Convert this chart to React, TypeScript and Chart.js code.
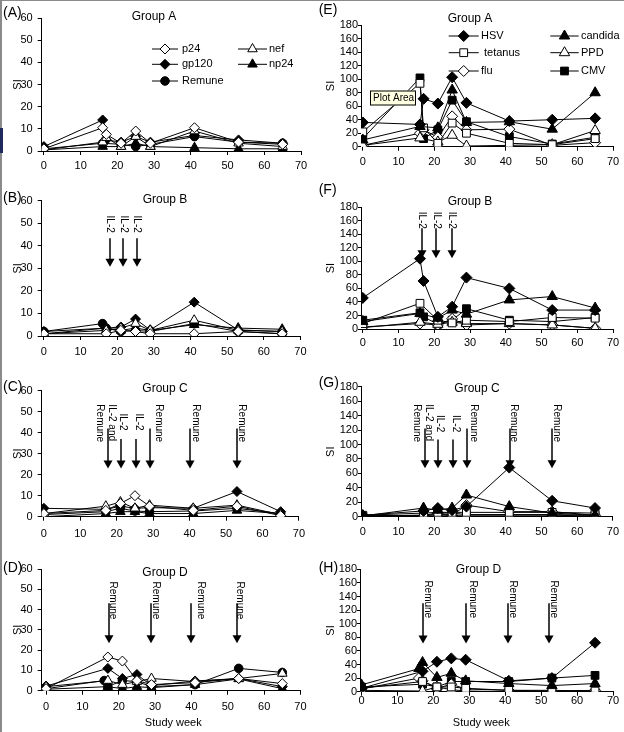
import React, { useEffect, useRef } from 'react';
import { Chart, registerables } from 'chart.js';
Chart.register(...registerables);

const FONT = '"Liberation Sans", Arial, sans-serif';

// Study weeks at which responses were measured
const WEEKS = [0, 16, 17, 21, 25, 29, 41, 53, 65];

const HIV_NAMES = ['p24', 'nef', 'gp120', 'np24', 'Remune'];
const RECALL_NAMES = ['HSV', 'candida', 'tetanus', 'PPD', 'flu', 'CMV'];

// ---- Group A, HIV antigens (panel A)
const A_P24 = [1, 10.5, 7.5, 3.5, 9, 3.5, 10.5, 4, 3];
const A_NEF = [0.5, 4, 6, 2, 6.5, 2, 9, 3.5, 2];
const A_GP120 = [2, 14, 5, 4, 6.5, 4, 7, 5, 3.5];
const A_NP24 = [0.5, 2, null, 2, 3.5, 2, 1.5, 1, 1];
const A_REMUNE = [1, 3.5, null, 3, 2, 3, 6.5, 4, 3.5];

// ---- Group B, HIV antigens (panel B)
const B_P24 = [1, null, 1, 2.5, 2, 1, 1, 2, 1];
const B_NEF = [1, null, 2.5, 3.5, 5.5, 2.5, 7, 2.5, 2];
const B_GP120 = [2, null, 3.5, 4, 7.5, 2.7, 15, 2.7, 2];
const B_NP24 = [1, null, 3.5, 2.5, 3.5, 2.5, 5, 3.5, 3];
const B_REMUNE = [2, 5.5, 3.5, 2, 2.5, 2, 5.5, 2, 1];

// ---- Group C, HIV antigens (panel C)
const C_P24 = [1.5, null, 3, 6.3, 10, 5, 3, 5, 0.5];
const C_NEF = [1.5, null, 5, 7, 4, 5.5, 4, 5.5, 1];
const C_GP120 = [4, null, 3.5, 5, 4, 4.3, 4, 12, 2.4];
const C_NP24 = [0, null, 1.5, 2.4, 2.4, 1.5, 1.5, 3, 1.5];
const C_REMUNE = [1, null, 2.4, 4, 2.7, 2.4, 2.7, 4, 1.5];

// ---- Group D, HIV antigens (panel D)
const D_P24 = [1, null, 16.6, 14.6, 5, 3, 4, 6, 3.5];
const D_NEF = [2, null, 5, 3, 4.5, 6, 4.5, 6, 8.5];
const D_GP120 = [2.3, null, 11, 6, 8, 2.5, 4.8, 6, 2];
const D_NP24 = [0.7, null, 2, 1, 2, 1.5, 3, 5.8, 1];
const D_REMUNE = [1, 5, 2, 5, 4.5, 2, 3, 11, 9];

// ---- Group A, recall antigens (panel E)
const E_HSV = [36, 33, 71, 64, 103, 65, 38, 40, 42];
const E_CANDIDA = [10, 30, null, 28, 84, 36, 37, 26, 80];
const E_TETANUS = [22, 94, 28, 5, 35, 20, 5, 3, 12];
const E_PPD = [2, 13, null, 7, 17, 1, 2, 3, 24];
const E_FLU = [2, 20, 25, 14, 45, 25, 26, 2, 6];
const E_CMV = [12, 102, 12, 25, 69, 37, 15, 4, 14];

// ---- Group B, recall antigens (panel F)
const F_HSV = [46, 104, 71, 18, 33, 76, 60, 28, 28];
const F_CANDIDA = [11, 23, null, 16, 28, 22, 43, 48, 31];
const F_TETANUS = [8, 38, null, 13, 9, 13, 11, 17, 16];
const F_PPD = [2, 10, null, 7, 10, 8, 8, 6, 1];
const F_FLU = [3, 8, null, 6, 15, 6, 8, 6, 1];
const F_CMV = [13, 24, 18, 7, 13, 30, 13, 11, 17];

// ---- Group C, recall antigens (panel G)
const G_HSV = [2, null, 8, 12, 9, 14, 68, 22, 12];
const G_CANDIDA = [1, null, 12, 9, 12, 30, 14, 5, 2];
const G_TETANUS = [2, null, 5, 6, 6, 6, 6, 6, 5];
const G_PPD = [1, null, 2, 2, 2, 2, 2, 2, 1];
const G_FLU = [2, null, 1, 4, 2, 16, 7, 7, 2];
const G_CMV = [1, null, 2, 5, 5, 3, 3, 3, 2];

// ---- Group D, recall antigens (panel H)
const H_HSV = [5, null, 30, 44, 49, 47, 16, 20, 72];
const H_CANDIDA = [10, 34, 43, 21, 27, 16, 12, 9, 12];
const H_TETANUS = [5, null, 15, 7, 7, 5, 2, 2, 1];
const H_PPD = [2, null, 1, 7, 3, 1, 0, 0, 0];
const H_FLU = [4, 20, 16, 5, 11, 4, 2, 1, 2];
const H_CMV = [7, null, 11, 7, 15, 15, 15, 20, 24];

// ---- Axis ticks
const X_TICKS = [0, 10, 20, 30, 40, 50, 60, 70];
const LEFT_Y_MAX = 60;
const LEFT_Y_STEP = 10;
const RIGHT_Y_MAX = 180;
const RIGHT_Y_STEP = 20;
const X_MAX = 70;

// ---- Treatment arrows (study week, SI at arrow top, SI at tip) and rotated notes
const B_ARROW_WEEKS = [18.1, 21.7, 25.4];
const B_ARROW_TOP = [43.3, 43.3, 43.3];
const B_ARROW_TIP = [30.7, 30.7, 30.7];
const B_NOTE_TEXT = ['IL-2', 'IL-2', 'IL-2'];
const B_NOTE_WEEKS = [18.1, 21.7, 25.4];
const B_NOTE_TOP = [53.4, 53.4, 53.4];

const C_ARROW_WEEKS = [17.5, 21.1, 25.3, 29.2, 40.1, 53.1];
const C_ARROW_TOP = [42, 37, 37, 42, 42, 42];
const C_ARROW_TIP = [23, 23, 23, 23, 23, 23];
const C_NOTE_TEXT = ['Remune', 'IL-2 and', 'IL-2', 'IL-2', 'Remune', 'Remune', 'Remune'];
const C_NOTE_WEEKS = [15.3, 18.7, 21.6, 26.1, 31.4, 41.7, 54.3];
const C_NOTE_TOP = [53.5, 53.5, 49.2, 49.2, 53.5, 53.5, 53.5];

const D_ARROW_WEEKS = [17.2, 28.8, 40, 52.5];
const D_ARROW_TOP = [43.1, 43.1, 43.1, 43.1];
const D_ARROW_TIP = [23.4, 23.4, 23.4, 23.4];
const D_NOTE_TEXT = ['Remune', 'Remune', 'Remune', 'Remune'];
const D_NOTE_WEEKS = [18.3, 30.2, 42.5, 53.4];
const D_NOTE_TOP = [53.8, 53.8, 53.8, 53.8];

const F_ARROW_WEEKS = [16.6, 20.6, 25];
const F_ARROW_TOP = [149, 149, 149];
const F_ARROW_TIP = [104.6, 104.6, 104.6];
const F_NOTE_TEXT = ['IL-2', 'IL-2', 'IL-2'];
const F_NOTE_WEEKS = [16.6, 20.6, 25];
const F_NOTE_TOP = [173.5, 173.5, 173.5];

const G_ARROW_WEEKS = [17.3, 21, 25.2, 29.2, 41.3, 52.9];
const G_ARROW_TOP = [122, 107, 107, 122, 122, 122];
const G_ARROW_TIP = [67, 67, 67, 67, 67, 67];
const G_NOTE_TEXT = ['Remune', 'IL-2 and', 'IL-2', 'IL-2', 'Remune', 'Remune', 'Remune'];
const G_NOTE_WEEKS = [15.2, 18.5, 21.5, 25.9, 31, 42.2, 54.3];
const G_NOTE_TOP = [155.7, 155.7, 140.8, 140.8, 155.7, 155.7, 155.7];

const H_ARROW_WEEKS = [17.2, 29, 40.7, 52.2];
const H_ARROW_TOP = [130, 130, 130, 130];
const H_ARROW_TIP = [71, 71, 71, 71];
const H_NOTE_TEXT = ['Remune', 'Remune', 'Remune', 'Remune'];
const H_NOTE_WEEKS = [18.4, 31.1, 42.1, 53.4];
const H_NOTE_TOP = [163.7, 163.7, 163.7, 163.7];

// ---------------------------------------------------------------------------
type Shape = 'rectRot' | 'triangle' | 'rect' | 'circle';
interface MStyle { shape: Shape; fill: boolean; r: number }

const HIV_STYLES: MStyle[] = [
  { shape: 'rectRot', fill: false, r: 5 },
  { shape: 'triangle', fill: false, r: 5.5 },
  { shape: 'rectRot', fill: true, r: 5 },
  { shape: 'triangle', fill: true, r: 5.5 },
  { shape: 'circle', fill: true, r: 4.3 },
];
const RECALL_STYLES: MStyle[] = [
  { shape: 'rectRot', fill: true, r: 5.5 },
  { shape: 'triangle', fill: true, r: 6 },
  { shape: 'rect', fill: false, r: 5.5 },
  { shape: 'triangle', fill: false, r: 6 },
  { shape: 'rectRot', fill: false, r: 5.5 },
  { shape: 'rect', fill: true, r: 5.5 },
];

interface LegendItem { ds: number; x1: number; x2: number; y: number; tx: number }
interface Panel {
  key: string; letter: string; title: string;
  ox: number; oy: number; w: number; h: number;
  area: { l: number; t: number; r: number; b: number };
  xMin: number;
  yMax: number; yStep: number;
  names: string[]; styles: MStyle[]; series: (number | null)[][];
  letterPos: [number, number]; titlePos: [number, number]; siX: number;
  xGap: number; yPad: number; yTickLen: number;
  arrows: { weeks: number[]; tops: number[]; tips: number[] };
  notes: { text: string[]; weeks: number[]; tops: number[] };
  legend?: LegendItem[];
  studyWeek?: [number, number];
  plotAreaTip?: boolean;
}

const NONE = { weeks: [], tops: [], tips: [] };
const NO_NOTES = { text: [], weeks: [], tops: [] };

const LEFT_COMMON = { ox: 0, w: 312, yMax: LEFT_Y_MAX, yStep: LEFT_Y_STEP, names: HIV_NAMES, styles: HIV_STYLES, siX: 17.5, yPad: 5, yTickLen: 4 };
const RIGHT_COMMON = { ox: 312, w: 312, yMax: RIGHT_Y_MAX, yStep: RIGHT_Y_STEP, names: RECALL_NAMES, styles: RECALL_STYLES, siX: 330.5, yPad: 0, yTickLen: 3 };

const PANELS: Panel[] = [
  {
    ...LEFT_COMMON, key: 'A', letter: '(A)', title: 'Group A', oy: 0, h: 170,
    area: { l: 41.7, t: 18, r: 301, b: 151 }, xMin: -0.6,
    series: [A_P24, A_NEF, A_GP120, A_NP24, A_REMUNE],
    letterPos: [3, 13.3], titlePos: [154, 16.7], xGap: 15,
    arrows: NONE, notes: NO_NOTES,
    legend: [
      { ds: 0, x1: 152, x2: 178, y: 49, tx: 182 },
      { ds: 1, x1: 238, x2: 267, y: 49, tx: 269 },
      { ds: 2, x1: 152, x2: 178, y: 64.3, tx: 182 },
      { ds: 3, x1: 238, x2: 267, y: 64.3, tx: 269 },
      { ds: 4, x1: 152, x2: 178, y: 81, tx: 182 },
    ],
  },
  {
    ...LEFT_COMMON, key: 'B', letter: '(B)', title: 'Group B', oy: 170, h: 190,
    area: { l: 41.7, t: 200.7, r: 301, b: 336 }, xMin: -0.6,
    series: [B_P24, B_NEF, B_GP120, B_NP24, B_REMUNE],
    letterPos: [3, 198.3], titlePos: [165, 200], xGap: 16,
    arrows: { weeks: B_ARROW_WEEKS, tops: B_ARROW_TOP, tips: B_ARROW_TIP },
    notes: { text: B_NOTE_TEXT, weeks: B_NOTE_WEEKS, tops: B_NOTE_TOP },
  },
  {
    ...LEFT_COMMON, key: 'C', letter: '(C)', title: 'Group C', oy: 360, h: 185,
    area: { l: 41.7, t: 390.7, r: 301, b: 516.7 }, xMin: -0.6,
    series: [C_P24, C_NEF, C_GP120, C_NP24, C_REMUNE],
    letterPos: [3, 387.3], titlePos: [165, 388.7], xGap: 17.6,
    arrows: { weeks: C_ARROW_WEEKS, tops: C_ARROW_TOP, tips: C_ARROW_TIP },
    notes: { text: C_NOTE_TEXT, weeks: C_NOTE_WEEKS, tops: C_NOTE_TOP },
  },
  {
    ...LEFT_COMMON, key: 'D', letter: '(D)', title: 'Group D', oy: 545, h: 187,
    area: { l: 41.7, t: 569, r: 302.6, b: 690.7 }, xMin: -1.2,
    series: [D_P24, D_NEF, D_GP120, D_NP24, D_REMUNE],
    letterPos: [3, 568.3], titlePos: [165, 572.7], xGap: 16,
    arrows: { weeks: D_ARROW_WEEKS, tops: D_ARROW_TOP, tips: D_ARROW_TIP },
    notes: { text: D_NOTE_TEXT, weeks: D_NOTE_WEEKS, tops: D_NOTE_TOP },
    studyWeek: [173.3, 723.3],
  },
  {
    ...RIGHT_COMMON, key: 'E', letter: '(E)', title: 'Group A', oy: 0, h: 170,
    area: { l: 361, t: 25.3, r: 613, b: 146.7 }, xMin: -0.5,
    series: [E_HSV, E_CANDIDA, E_TETANUS, E_PPD, E_FLU, E_CMV],
    letterPos: [318.7, 10], titlePos: [470, 18.3], xGap: 15,
    arrows: NONE, notes: NO_NOTES,
    legend: [
      { ds: 0, x1: 448.7, x2: 478.7, y: 36, tx: 481 },
      { ds: 1, x1: 550.3, x2: 578.7, y: 36, tx: 581 },
      { ds: 2, x1: 448.7, x2: 478.7, y: 52.7, tx: 484 },
      { ds: 3, x1: 550.3, x2: 578.7, y: 52.7, tx: 581 },
      { ds: 4, x1: 448.7, x2: 478.7, y: 71, tx: 481 },
      { ds: 5, x1: 550.3, x2: 578.7, y: 71, tx: 581 },
    ],
    plotAreaTip: true,
  },
  {
    ...RIGHT_COMMON, key: 'F', letter: '(F)', title: 'Group B', oy: 170, h: 190,
    area: { l: 361, t: 207.3, r: 613, b: 329 }, xMin: -0.5,
    series: [F_HSV, F_CANDIDA, F_TETANUS, F_PPD, F_FLU, F_CMV],
    letterPos: [318.7, 190], titlePos: [470, 201.7], xGap: 14,
    arrows: { weeks: F_ARROW_WEEKS, tops: F_ARROW_TOP, tips: F_ARROW_TIP },
    notes: { text: F_NOTE_TEXT, weeks: F_NOTE_WEEKS, tops: F_NOTE_TOP },
  },
  {
    ...RIGHT_COMMON, key: 'G', letter: '(G)', title: 'Group C', oy: 360, h: 185,
    area: { l: 361, t: 386.7, r: 613, b: 516.7 }, xMin: -0.5,
    series: [G_HSV, G_CANDIDA, G_TETANUS, G_PPD, G_FLU, G_CMV],
    letterPos: [318.7, 383.3], titlePos: [477, 388.3], xGap: 15.6,
    arrows: { weeks: G_ARROW_WEEKS, tops: G_ARROW_TOP, tips: G_ARROW_TIP },
    notes: { text: G_NOTE_TEXT, weeks: G_NOTE_WEEKS, tops: G_NOTE_TOP },
  },
  {
    ...RIGHT_COMMON, key: 'H', letter: '(H)', title: 'Group D', oy: 545, h: 187,
    area: { l: 360, t: 569.3, r: 613, b: 691.7 }, xMin: -0.4,
    series: [H_HSV, H_CANDIDA, H_TETANUS, H_PPD, H_FLU, H_CMV],
    letterPos: [318.7, 568.3], titlePos: [478.5, 570], xGap: 9,
    arrows: { weeks: H_ARROW_WEEKS, tops: H_ARROW_TOP, tips: H_ARROW_TIP },
    notes: { text: H_NOTE_TEXT, weeks: H_NOTE_WEEKS, tops: H_NOTE_TOP },
    studyWeek: [481.3, 723.3],
  },
];

function drawMarker(ctx: CanvasRenderingContext2D, s: MStyle, x: number, y: number) {
  const r = s.r;
  ctx.beginPath();
  if (s.shape === 'rectRot') {
    ctx.moveTo(x, y - r); ctx.lineTo(x + r, y); ctx.lineTo(x, y + r); ctx.lineTo(x - r, y); ctx.closePath();
  } else if (s.shape === 'triangle') {
    ctx.moveTo(x, y - r); ctx.lineTo(x + 0.866 * r, y + 0.5 * r); ctx.lineTo(x - 0.866 * r, y + 0.5 * r); ctx.closePath();
  } else if (s.shape === 'rect') {
    const hh = r * Math.SQRT1_2;
    ctx.rect(x - hh, y - hh, 2 * hh, 2 * hh);
  } else {
    ctx.arc(x, y, r, 0, Math.PI * 2);
  }
  ctx.fillStyle = s.fill ? '#000' : '#fff';
  ctx.fill();
  ctx.lineWidth = 1;
  ctx.strokeStyle = '#000';
  ctx.stroke();
}

function makeDecor(p: Panel) {
  return {
    id: 'decor' + p.key,
    afterDraw(chart: any) {
      const ctx: CanvasRenderingContext2D = chart.ctx;
      const xs = chart.scales.x;
      const ys = chart.scales.y;
      const X = (v: number) => v - p.ox;
      const Y = (v: number) => v - p.oy;
      const ca = chart.chartArea;
      ctx.save();
      ctx.fillStyle = '#000';
      ctx.strokeStyle = '#000';
      ctx.textBaseline = 'middle';

      ctx.font = `14px ${FONT}`;
      ctx.textAlign = 'left';
      ctx.fillText(p.letter, X(p.letterPos[0]), Y(p.letterPos[1]));

      ctx.font = `12px ${FONT}`;
      ctx.textAlign = 'center';
      ctx.fillText(p.title, X(p.titlePos[0]), Y(p.titlePos[1]));

      ctx.save();
      ctx.translate(X(p.siX), (ca.top + ca.bottom) / 2);
      ctx.rotate(-Math.PI / 2);
      ctx.font = `11px ${FONT}`;
      ctx.textAlign = 'center';
      ctx.fillText('SI', 0, 0);
      ctx.restore();

      if (p.studyWeek) {
        ctx.font = `11px ${FONT}`;
        ctx.textAlign = 'center';
        ctx.fillText('Study week', X(p.studyWeek[0]), Y(p.studyWeek[1]));
      }

      // arrows
      for (let i = 0; i < p.arrows.weeks.length; i++) {
        const x = Math.round(xs.getPixelForValue(p.arrows.weeks[i]));
        const yTop = ys.getPixelForValue(p.arrows.tops[i]);
        const yTip = ys.getPixelForValue(p.arrows.tips[i]);
        const hh = 8, hw = 4.5;
        ctx.beginPath();
        ctx.lineWidth = 1.5;
        ctx.strokeStyle = '#000';
        ctx.moveTo(x, yTop);
        ctx.lineTo(x, yTip - hh + 1);
        ctx.stroke();
        ctx.beginPath();
        ctx.moveTo(x - hw, yTip - hh);
        ctx.lineTo(x + hw, yTip - hh);
        ctx.lineTo(x, yTip);
        ctx.closePath();
        ctx.fillStyle = '#000';
        ctx.fill();
      }

      // rotated notes
      ctx.font = `10px ${FONT}`;
      for (let i = 0; i < p.notes.text.length; i++) {
        ctx.save();
        ctx.translate(xs.getPixelForValue(p.notes.weeks[i]), ys.getPixelForValue(p.notes.tops[i]));
        ctx.rotate(Math.PI / 2);
        ctx.textAlign = 'left';
        ctx.textBaseline = 'middle';
        ctx.fillStyle = '#000';
        ctx.fillText(p.notes.text[i], 0, 0);
        ctx.restore();
      }

      // legend
      if (p.legend) {
        ctx.font = `11px ${FONT}`;
        ctx.textAlign = 'left';
        for (const it of p.legend) {
          const y = Y(it.y);
          ctx.beginPath();
          ctx.lineWidth = 1;
          ctx.strokeStyle = '#000';
          ctx.moveTo(X(it.x1), y);
          ctx.lineTo(X(it.x2), y);
          ctx.stroke();
          drawMarker(ctx, p.styles[it.ds], X((it.x1 + it.x2) / 2), y);
          ctx.fillStyle = '#000';
          ctx.fillText(p.names[it.ds], X(it.tx), y);
        }
      }

      if (p.plotAreaTip) {
        const bx = X(370), by = Y(90.5);
        ctx.fillStyle = '#ffffe1';
        ctx.fillRect(bx, by, 46, 15);
        ctx.lineWidth = 1;
        ctx.strokeStyle = '#000';
        ctx.strokeRect(bx + 0.5, by + 0.5, 45, 14);
        ctx.fillStyle = '#000';
        ctx.font = `10px ${FONT}`;
        ctx.textAlign = 'left';
        ctx.fillText('Plot Area', bx + 3, by + 8);
      }
      ctx.restore();
    },
  };
}

function buildConfig(p: Panel): any {
  const datasets = p.series.map((vals, i) => {
    const s = p.styles[i];
    return {
      label: p.names[i],
      data: WEEKS.map((w, j) => ({ x: w, y: vals[j] })).filter((d) => d.y !== null),
      showLine: true,
      borderColor: '#000',
      borderWidth: 1,
      pointStyle: s.shape,
      pointRadius: s.r,
      pointBorderColor: '#000',
      pointBorderWidth: 1,
      pointBackgroundColor: s.fill ? '#000' : '#fff',
      tension: 0,
    };
  });
  const tickFont = { family: FONT, size: 11 };
  const xPad = p.xGap - 4 - 6.6;
  return {
    type: 'scatter',
    data: { datasets },
    options: {
      responsive: false,
      maintainAspectRatio: false,
      animation: false,
      devicePixelRatio: 1,
      events: [],
      layout: { padding: { left: 0, top: p.area.t - p.oy, right: p.ox + p.w - p.area.r, bottom: 0 } },
      plugins: { legend: { display: false }, tooltip: { enabled: false }, title: { display: false } },
      scales: {
        x: {
          type: 'linear', min: p.xMin, max: X_MAX,
          ticks: { color: '#000', font: tickFont, padding: xPad, maxRotation: 0, autoSkip: false },
          afterBuildTicks: (sc: any) => { sc.ticks = X_TICKS.map((v) => ({ value: v })); },
          grid: { drawOnChartArea: false, drawTicks: true, tickLength: 4, color: '#000' },
          border: { display: true, color: '#000', width: 1 },
          afterFit: (sc: any) => { sc.height = p.oy + p.h - p.area.b; },
        },
        y: {
          type: 'linear', min: 0, max: p.yMax,
          ticks: { stepSize: p.yStep, color: '#000', font: tickFont, padding: p.yPad, autoSkip: false },
          grid: { drawOnChartArea: false, drawTicks: true, tickLength: p.yTickLen, color: '#000' },
          border: { display: true, color: '#000', width: 1 },
          afterFit: (sc: any) => { sc.width = p.area.l - p.ox; },
        },
      },
    },
    plugins: [makeDecor(p)],
  };
}

function PanelChart({ p }: { p: Panel }) {
  const ref = useRef<HTMLCanvasElement>(null);
  useEffect(() => {
    const chart = new Chart(ref.current as HTMLCanvasElement, buildConfig(p));
    return () => chart.destroy();
  }, [p]);
  return (
    <canvas
      ref={ref}
      width={p.w}
      height={p.h}
      style={{ position: 'absolute', left: p.ox, top: p.oy, width: p.w, height: p.h }}
    />
  );
}

export default function App() {
  return (
    <div style={{ position: 'fixed', left: 0, top: 0, width: 624, height: 732, background: '#fff', overflow: 'hidden' }}>
      {PANELS.map((p) => (
        <PanelChart key={p.key} p={p} />
      ))}
      <div style={{ position: 'absolute', left: 0, top: 0, width: 2, height: 732, background: '#8a8a8a' }} />
      <div style={{ position: 'absolute', left: 0, top: 0, width: 624, height: 1, background: '#8a8a8a' }} />
      <div style={{ position: 'absolute', left: 0, top: 128, width: 3, height: 25, background: '#1e2b5c' }} />
    </div>
  );
}
